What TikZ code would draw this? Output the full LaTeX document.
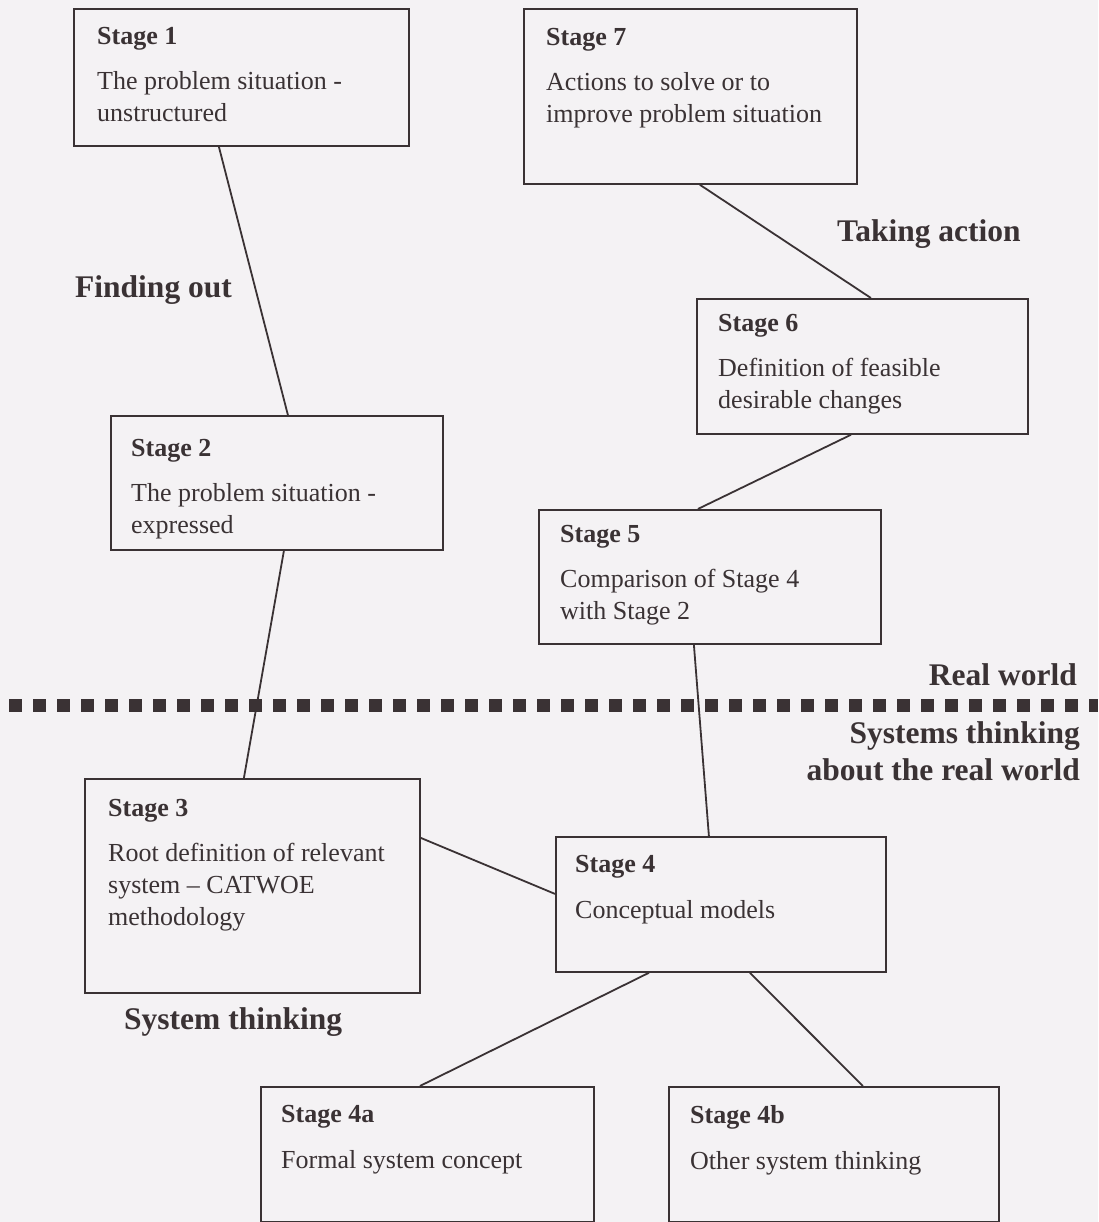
\documentclass[tikz,border=0pt]{standalone}
\usepackage{fontspec}
\setmainfont{Liberation Serif}

\definecolor{ink}{RGB}{58,50,52}
\definecolor{paper}{RGB}{244,242,244}

\tikzset{
  stagebox/.style={
    draw=ink, line width=1.8pt, rectangle, anchor=north west,
    minimum width=333pt, minimum height=135pt, inner sep=0pt
  },
  stagetext/.style={anchor=north west, inner sep=0pt, align=left,
    text=ink, font=\fontsize{26}{32}\selectfont},
  phase/.style={text=ink, inner sep=0pt,
    font=\fontsize{31.5}{37}\selectfont\bfseries},
  link/.style={draw=ink, line width=1.8pt},
  divider/.style={draw=ink, line width=13pt, dash pattern=on 13pt off 11pt},
}

\begin{document}
\begin{tikzpicture}[x=1pt,y=-1pt]

\fill[paper] (0,0) rectangle (1098,1222);
\useasboundingbox (0,0) rectangle (1098,1222);

% boxes
\node[stagebox,minimum width=335pt,minimum height=137pt] (s1) at (73,8) {};
\node[stagebox,minimum height=175pt] (s7) at (523,8) {};
\node[stagebox,minimum width=331pt] (s6) at (696,298) {};
\node[stagebox,minimum width=332pt,minimum height=134pt] (s2) at (110,415) {};
\node[stagebox,minimum width=342pt,minimum height=134pt] (s5) at (538,509) {};
\node[stagebox,minimum width=335pt,minimum height=214pt] (s3) at (84,778) {};
\node[stagebox,minimum width=330pt] (s4) at (555,836) {};
\node[stagebox] (s4a) at (260,1086) {};
\node[stagebox,minimum width=330pt] (s4b) at (668,1086) {};

% box texts
\node[stagetext] (t1) at ([shift={(24,19)}]s1.north west)
    {\textbf{Stage 1}\\[13pt]The problem situation -\\unstructured};
\node[stagetext] (t7) at ([shift={(23,20)}]s7.north west)
    {\textbf{Stage 7}\\[13pt]Actions to solve or to\\improve problem situation};
\node[stagetext] (t6) at ([shift={(22,16)}]s6.north west)
    {\textbf{Stage 6}\\[13pt]Definition of feasible\\desirable changes};
\node[stagetext] (t2) at ([shift={(21,24)}]s2.north west)
    {\textbf{Stage 2}\\[13pt]The problem situation -\\expressed};
\node[stagetext] (t5) at ([shift={(22,16)}]s5.north west)
    {\textbf{Stage 5}\\[13pt]Comparison of Stage 4\\with Stage 2};
\node[stagetext] (t3) at ([shift={(24,21)}]s3.north west)
    {\textbf{Stage 3}\\[13pt]Root definition of relevant\\system -- CATWOE\\methodology};
\node[stagetext] (t4) at ([shift={(20,19)}]s4.north west)
    {\textbf{Stage 4}\\[14pt]Conceptual models};
\node[stagetext] (t4a) at ([shift={(21,19)}]s4a.north west)
    {\textbf{Stage 4a}\\[14pt]Formal system concept};
\node[stagetext] (t4b) at ([shift={(22,19)}]s4b.north west)
    {\textbf{Stage 4b}\\[14pt]Other system thinking};

% phase labels
\node[phase,anchor=west] (finding) at (75,290) {Finding out};
\node[phase,anchor=west] (taking) at (837,234) {Taking action};
\node[phase,anchor=east] (real) at (1077,675) {Real world};
\node[phase,anchor=east,align=right] (sysreal) at (1080,751)
    {Systems thinking\\about the real world};
\node[phase,anchor=west] (systhink) at (124,1022) {System thinking};

% divider between the two worlds
\coordinate (divL) at (9,705);
\coordinate (divR) at (1098,705);
\path[divider] (divL) -- (divR);

\path[link]
  ([xshift=-22.5pt]s1.south) edge ([xshift=11pt]s2.north)
  ([xshift=7pt]s2.south) edge ([xshift=-8.5pt]s3.north)
  ([yshift=48pt]s3.east) edge ([yshift=10.5pt]s4.west)
  ([xshift=-12pt]s4.north) edge ([xshift=-16pt]s5.south)
  ([xshift=-12pt]s5.north) edge ([xshift=-11.5pt]s6.south)
  ([xshift=8.5pt]s6.north) edge ([xshift=9.5pt]s7.south)
  ([xshift=-72pt]s4.south) edge ([xshift=-7.5pt]s4a.north)
  ([xshift=29pt]s4.south) edge ([xshift=29pt]s4b.north)
  ;

\end{tikzpicture}
\end{document}
